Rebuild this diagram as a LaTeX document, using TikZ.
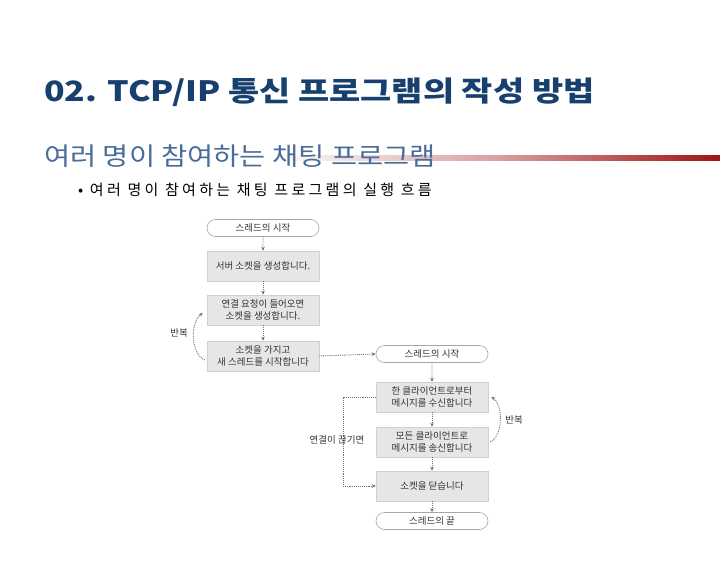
\documentclass[tikz,border=0pt]{standalone}
\usepackage{fontspec}
\setmainfont{Noto Sans CJK KR}
\newfontfamily\krsp{Noto Sans CJK KR}[LetterSpace=22]
\usetikzlibrary{shapes.misc,arrows.meta,calc}
\definecolor{titleblue}{HTML}{17406F}
\definecolor{subblue}{HTML}{4A6C9A}
\definecolor{linered}{HTML}{9E1515}
\definecolor{boxfill}{HTML}{E6E6E6}
\definecolor{boxline}{HTML}{D0D0D0}
\definecolor{conn}{HTML}{707070}
\definecolor{txt}{HTML}{333333}
\begin{document}
\begin{tikzpicture}[x=1pt,y=-1pt,
  stepbox/.style={rectangle,fill=boxfill,draw=boxline,line width=0.5pt,minimum width=112pt,minimum height=30pt,align=center,font=\fontsize{9.5}{12}\selectfont,text=txt,inner sep=1pt},
  termbox/.style={rounded rectangle,fill=white,draw=gray!70,line width=0.6pt,minimum width=114pt,minimum height=17pt,font=\fontsize{9.5}{12}\selectfont,text=txt,inner sep=1pt},
  dotarr/.style={draw=conn,densely dotted,line width=0.9pt,-{Stealth[length=4pt,width=3.5pt]}},
  lbl/.style={font=\fontsize{9.5}{12}\selectfont,text=txt,inner sep=0pt}]
\useasboundingbox (0,0) rectangle (720,567);
% header
\node[anchor=west,inner sep=0pt,text=titleblue,font=\fontsize{28}{32}\selectfont\bfseries] (title) at (44,92) {\scalebox{1.21}[1]{02. TCP/IP 통신 프로그램의 작성 방법}};
\shade[left color=white,right color=linered,middle color=linered!40] (270,155) rectangle (720,160);
\node[anchor=west,inner sep=0pt,text=subblue,font=\fontsize{25}{28}\selectfont] (sub) at (44,156) {\scalebox{1.137}[1]{여러 명이 참여하는 채팅 프로그램}};
\node[anchor=west,inner sep=0pt,font=\fontsize{15}{17}\krsp] (bul) at (78,190) {• 여러 명이 참여하는 채팅 프로그램의 실행 흐름};
% left column
\node[termbox] (lt) at (263,228) {스레드의 시작};
\node[stepbox] (b1) at (263,266) {서버 소켓을 생성합니다.};
\node[stepbox] (b2) at (263,310) {연결 요청이 들어오면\\소켓을 생성합니다.};
\node[stepbox] (b3) at (263,356) {소켓을 가지고\\새 스레드를 시작합니다};
% right column
\node[termbox] (rt) at (432,354) {스레드의 시작};
\node[stepbox] (r1) at (432,397) {한 클라이언트로부터\\메시지를 수신합니다};
\node[stepbox] (r2) at (432,442) {모든 클라이언트로\\메시지를 송신합니다};
\node[stepbox] (r3) at (432,486) {소켓을 닫습니다};
\node[termbox] (re) at (432,521) {스레드의 끝};
% vertical arrows
\draw[dotarr] (lt) -- (b1);
\draw[dotarr] (b1) -- (b2);
\draw[dotarr] (b2) -- (b3);
\draw[dotarr] (rt) -- (r1);
\draw[dotarr] (r1) -- (r2);
\draw[dotarr] (r2) -- (r3);
\draw[dotarr] (r3) -- (re);
% cross connector
\draw[dotarr] (b3.east) -- (rt.west);
% left loop
\draw[dotarr] ($(b3.west)+(-2,4)$) .. controls +(-14,-6) and +(-13,10) .. ($(b2.west)+(-4,3)$);
\node[lbl] (lrep) at (179,333) {반복};
% right loop
\draw[dotarr] ($(r2.east)+(2,0)$) .. controls +(13,-6) and +(12,8) .. ($(r1.east)+(3,0)$);
\node[lbl] (rrep) at (514,420) {반복};
% disconnect path
\coordinate (c1) at (343,397);
\coordinate (c2) at (343,486);
\draw[dotarr] (r1.west) -- (c1) -- (c2) -- (r3.west);
\node[lbl] (disc) at (337,440) {연결이 끊기면};
\end{tikzpicture}
\end{document}
